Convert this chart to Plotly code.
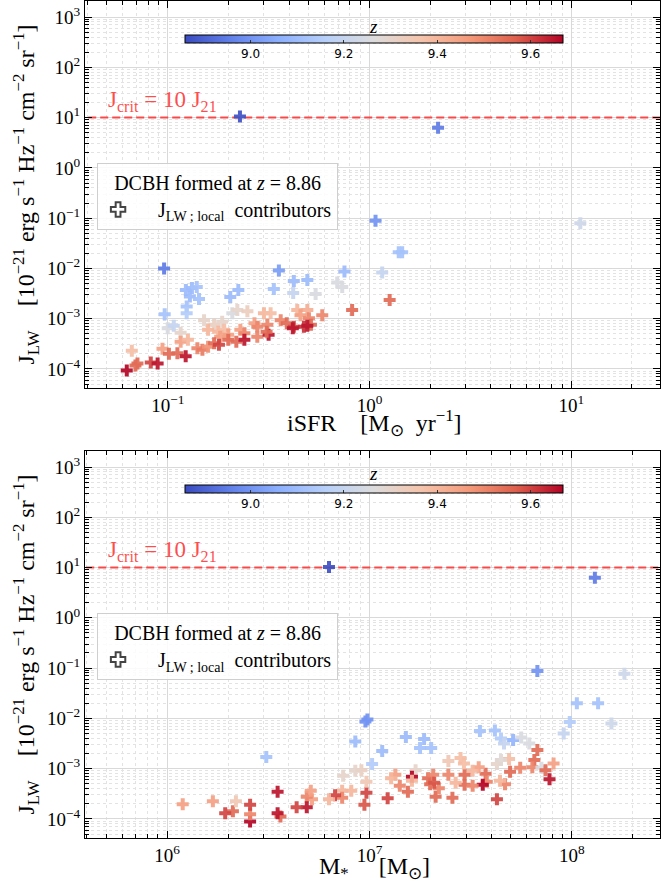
import numpy as np
import plotly.graph_objects as go

FONT = "Liberation Serif"

# ---------------- data ----------------
# Top panel: log10 iSFR [Msun/yr], log10 J_LW, redshift z
top_log_isfr = [-0.642, 0.34,
    0.03, 1.045, 0.162, 0.145, 0.063, 0.10, -0.086, -0.124, -0.135, -0.16, -0.267,
    -0.308, -0.375, -0.378, -0.449, -0.474, -0.65, -0.69,
    -1.018, -1.015, -0.91, -0.88, -0.856, -0.89, -0.845, -0.906, -0.906,
    -1.0, -0.97, -0.936, -0.82, -0.77, -0.73, -0.68, -0.655, -0.605, -0.523, -0.49,
    -0.358, -0.308, -0.342, -0.234, -0.30,
    -0.80, -0.75, -0.72, -0.74, -0.70, -0.64, -0.62, -0.57, -0.556, -0.506, -0.44,
    -0.41, -0.375, -0.325, -0.29,
    -1.178, -1.203, -1.15, -1.16, -1.084, -1.05, -1.026, -0.994, -0.952, -0.911,
    -0.936, -0.90, -0.853, -0.828, -0.80, -0.77, -0.746, -0.70, -0.66, -0.62,
    -0.556, -0.50, -0.51, -0.38, -0.308]
top_log_j = [1.02, 0.80,
    -1.05, -1.10, -1.68, -1.68, -2.08, -2.63, -2.83, -2.06, -2.37, -2.28, -2.51,
    -2.23, -2.25, -2.49, -2.04, -2.41, -2.43, -2.57,
    -2.0, -2.91, -2.43, -2.39, -2.37, -2.56, -2.61, -2.76, -2.89,
    -3.19, -3.14, -3.28, -3.03, -3.12, -3.06, -2.89, -2.83, -2.85, -2.89, -2.89,
    -2.83, -2.83, -2.93, -2.93, -2.99,
    -3.22, -3.26, -3.22, -3.36, -3.32, -3.22, -3.29, -3.09, -3.16, -3.12, -3.03,
    -3.09, -3.16, -3.16, -3.12,
    -3.64, -4.03, -3.89, -3.93, -3.87, -3.89, -3.60, -3.70, -3.69, -3.75,
    -3.46, -3.42, -3.59, -3.62, -3.56, -3.49, -3.52, -3.42, -3.46, -3.42,
    -3.36, -3.32, -3.26, -3.19, -3.14]
top_z = [8.87, 8.95,
    9.0, 9.22, 9.12, 9.12, 9.2, 9.55, 9.55, 9.1, 9.25, 9.25, 9.25,
    9.1, 9.1, 9.2, 9.02, 9.12, 9.1, 9.1,
    8.95, 9.12, 9.1, 9.1, 9.12, 9.1, 9.12, 9.12, 9.15,
    9.25, 9.2, 9.3, 9.3, 9.32, 9.3, 9.25, 9.3, 9.33, 9.4, 9.38,
    9.4, 9.42, 9.45, 9.5, 9.5,
    9.4, 9.4, 9.38, 9.45, 9.45, 9.45, 9.5, 9.45, 9.5, 9.5, 9.5,
    9.55, 9.6, 9.62, 9.55,
    9.38, 9.68, 9.55, 9.55, 9.6, 9.65, 9.45, 9.55, 9.55, 9.65,
    9.45, 9.4, 9.5, 9.52, 9.48, 9.55, 9.6, 9.55, 9.55, 9.65,
    9.5, 9.65, 9.55, 9.65, 9.65]

# Bottom panel: log10 M* [Msun], log10 J_LW, redshift z
bot_log_mstar = [6.80, 8.114,
    7.83, 8.26, 8.025, 8.13, 7.99, 8.196, 7.96, 6.99, 6.98, 6.93, 7.063, 7.013,
    7.18, 7.27, 7.25, 7.305, 7.546, 7.62, 7.65, 7.665, 7.71, 7.75, 7.79,
    7.83, 7.815, 7.805, 7.85, 7.87, 7.91, 7.89, 7.745, 7.695, 7.67, 7.645,
    7.69, 7.63, 7.65, 7.574, 7.58, 7.56, 7.63, 7.54, 7.51, 7.47, 7.47, 7.51,
    7.426, 7.45, 7.467, 7.39, 7.39, 7.41, 7.327, 7.343, 7.30, 7.29, 7.315, 7.32,
    7.228, 7.21, 7.21, 7.19, 7.15, 7.128, 7.107, 7.09, 6.985, 6.975, 6.96, 6.985,
    6.93, 6.87, 6.91, 6.865, 6.865, 6.83, 6.80, 6.716, 6.69, 6.71, 6.69, 6.64,
    6.56, 6.546, 6.546, 6.49, 6.41, 6.41, 6.41, 6.325, 6.287, 6.34, 6.226, 6.077]
bot_log_j = [1.01, 0.80,
    -1.06, -1.11, -1.70, -1.70, -2.07, -2.10, -2.30, -2.02, -2.06, -2.46, -2.65, -2.91,
    -2.37, -2.41, -2.59, -2.59, -2.25, -2.24, -2.40, -2.50, -2.43, -2.38, -2.50,
    -2.63, -2.83, -2.97, -2.98, -3.03, -2.90, -3.21, -2.98, -3.06, -3.31, -3.24,
    -2.81, -2.91, -2.83, -3.10, -3.26, -3.32, -3.61, -2.97, -3.04, -3.12, -3.32, -3.34,
    -3.28, -2.79, -2.90, -3.12, -2.85, -3.58, -3.56, -3.39, -3.31, -3.19, -3.12, -3.28,
    -3.03, -3.16, -3.24, -3.46, -3.34, -3.12, -3.19, -3.59, -3.48, -3.72, -3.03, -3.26,
    -3.04, -3.14, -3.44, -3.44, -3.58, -3.53, -3.61, -3.61, -3.56, -3.44, -3.77, -3.77,
    -3.95, -3.89, -3.46, -2.77, -4.05, -3.91, -3.72, -3.85, -3.89, -3.65, -3.65, -3.71]
bot_z = [8.87, 8.95,
    9.0, 9.22, 9.12, 9.12, 9.15, 9.22, 9.2, 9.0, 9.0, 9.1, 9.1, 9.15,
    9.1, 9.1, 9.12, 9.12, 9.12, 9.12, 9.15, 9.2, 9.08, 9.25, 9.25,
    9.55, 9.55, 9.5, 9.25, 9.55, 9.45, 9.65, 9.5, 9.55, 9.5, 9.4,
    9.38, 9.3, 9.28, 9.55, 9.5, 9.68, 9.6, 9.45, 9.4, 9.55, 9.55, 9.5,
    9.4, 9.38, 9.38, 9.5, 9.35, 9.55, 9.55, 9.5, 9.55, 9.55, 9.5, 9.58,
    9.3, 9.68, 9.4, 9.55, 9.5, 9.45, 9.4, 9.6, 9.6, 9.58, 9.32, 9.35,
    9.3, 9.3, 9.4, 9.4, 9.5, 9.6, 9.4, 9.45, 9.5, 9.45, 9.65, 9.6,
    9.55, 9.65, 9.65, 9.12, 9.7, 9.5, 9.6, 9.55, 9.6, 9.35, 9.45, 9.45]

J_CRIT = 10.0
Z_DCBH = 8.86
Z_RANGE = [8.86, 9.67]
cbar_ticks = [9.0, 9.2, 9.4, 9.6]
y_tick_exp = [-4, -3, -2, -1, 0, 1, 2, 3]
x_top_exp = [-1, 0, 1]
x_bot_exp = [6, 7, 8]

# ---------------- styling ----------------
coolwarm = [[0.0, "#3b4cc0"], [0.125, "#6282ea"], [0.25, "#8db0fe"], [0.375, "#b8d0f9"],
            [0.5, "#dddcdc"], [0.625, "#f5c4ac"], [0.75, "#f49a7b"], [0.875, "#de604d"],
            [1.0, "#b40426"]]
LINE_RED = "rgba(255,45,45,0.85)"
NB = "\u00a0"


def pow_label(e):
    return "10<sup>" + ("\u2212" if e < 0 else "") + str(abs(e)) + "</sup>"


def minor_vals(e0, e1):
    return [m * 10.0 ** e for e in range(e0, e1 + 1) for m in range(2, 10)]


def log_axis(exps, rng, minor_range):
    return dict(
        type="log", range=rng, showline=True, linecolor="black", linewidth=1,
        mirror="allticks", ticks="inside", ticklen=7, tickwidth=1, tickcolor="black",
        showgrid=True, gridcolor="#d9d9d9", gridwidth=1, zeroline=False,
        tickmode="array", tickvals=[10.0 ** e for e in exps],
        ticktext=[pow_label(e) for e in exps],
        tickfont=dict(family=FONT, size=19, color="black"),
        minor=dict(tickmode="array", tickvals=minor_vals(*minor_range), ticks="inside",
                   ticklen=4, tickwidth=1, tickcolor="black", showgrid=True,
                   gridcolor="#e3e3e3", griddash="dot", gridwidth=1),
    )


fig = go.Figure()

panels = [
    (top_log_isfr, top_log_j, top_z, "x", "y", "coloraxis", "legend"),
    (bot_log_mstar, bot_log_j, bot_z, "x2", "y2", "coloraxis2", "legend2"),
]
for lx, lj, zz, xa, ya, ca, lg in panels:
    # J_crit line
    fig.add_trace(go.Scatter(
        x=[1e-3, 1e10], y=[J_CRIT, J_CRIT], mode="lines", xaxis=xa, yaxis=ya,
        line=dict(color=LINE_RED, width=2, dash="8px,4px"), showlegend=False,
        hoverinfo="skip"))
    fig.add_trace(go.Scatter(
        x=np.power(10.0, lx), y=np.power(10.0, lj), mode="markers", xaxis=xa, yaxis=ya,
        marker=dict(symbol="cross", size=10, color=zz, coloraxis=ca, opacity=0.92,
                    line=dict(width=0)),
        showlegend=False))
    fig.add_trace(go.Scatter(
        x=[None], y=[None], mode="markers", xaxis=xa, yaxis=ya, legend=lg,
        marker=dict(symbol="cross-open", size=10, color="#444444",
                    line=dict(width=1, color="#444444")),
        name="\u2003J<sub>LW ; local</sub>  contributors", showlegend=True))

top_dom = [0.5376, 1.0]
bot_dom = [0.0, 0.4624]
yrange = [-4.38, 3.32]

XT_FONT = dict(family=FONT, size=24, color="black")
xa1 = log_axis(x_top_exp, [-1.41, 1.44], (-2, 1))
xa1.update(domain=[0, 1], anchor="y")
xa2 = log_axis(x_bot_exp, [5.594, 8.436], (5, 8))
xa2.update(domain=[0, 1], anchor="y2")
ytitle = ("J<sub>LW</sub>\u2003[10<sup>\u221221</sup> erg s<sup>\u22121</sup> "
          "Hz<sup>\u22121</sup> cm<sup>\u22122</sup> sr<sup>\u22121</sup>]")
YT_FONT = dict(family=FONT, size=24, color="black")
ya1 = log_axis(y_tick_exp, yrange, (-5, 3))
ya1.update(domain=top_dom, anchor="x", title=dict(text=ytitle, font=YT_FONT, standoff=5))
ya2 = log_axis(y_tick_exp, yrange, (-5, 3))
ya2.update(domain=bot_dom, anchor="x2", title=dict(text=ytitle, font=YT_FONT, standoff=5))


def cbar(ytop):
    return dict(
        orientation="h", x=0.503, xanchor="center", y=ytop, yanchor="top",
        len=0.657, lenmode="fraction", thickness=8, outlinecolor="black", outlinewidth=1,
        tickmode="array", tickvals=cbar_ticks, ticktext=[f"{v:.1f}" for v in cbar_ticks],
        ticks="inside", ticklen=3, tickcolor="#333333",
        tickfont=dict(family="DejaVu Sans", size=12, color="black"),
        ticklabelposition="outside bottom", xpad=0, ypad=0)


def legend_at(ytop):
    return dict(
        x=0.021, y=ytop, xanchor="left", yanchor="top",
        bgcolor="rgba(255,255,255,0.85)", bordercolor="#cfcfcf", borderwidth=1,
        font=dict(family=FONT, size=20, color="black"),
        title=dict(text="\u2002DCBH formed at <i>z</i> = " + f"{Z_DCBH:.2f}\u2002",
                   side="top center", font=dict(family=FONT, size=20, color="black")),
        itemsizing="constant", tracegroupgap=0)


annotations = []
for yref, xref, ycb in (("y", "x", 0.969), ("y2", "x2", 0.436)):
    annotations.append(dict(
        text="J<sub>crit</sub> = 10 J<sub>21</sub>", xref=xref + " domain", yref=yref,
        x=0.036, y=np.log10(J_CRIT), xanchor="left", yanchor="bottom", yshift=1,
        showarrow=False, font=dict(family=FONT, size=23, color=LINE_RED)))
    annotations.append(dict(
        text="<i>z</i>", xref="paper", yref="paper", x=0.501, y=ycb, xanchor="center",
        yanchor="middle", showarrow=False, font=dict(family=FONT, size=19, color="black")))

# x-axis titles
annotations.append(dict(
    text="iSFR" + NB * 4 + "[M<sub>\u2299</sub>" + NB * 2 + "yr<sup>\u22121</sup>]",
    xref="paper", yref="paper",
    x=0.504, y=0.4958, xanchor="center", yanchor="middle", showarrow=False, font=XT_FONT))
annotations.append(dict(
    text="M<sub>*</sub>" + NB * 5 + "[M<sub>\u2299</sub>]", xref="paper", yref="paper",
    x=0.504, y=-0.0358, xanchor="center", yanchor="middle", showarrow=False, font=XT_FONT))

fig.update_layout(
    width=663, height=886, margin=dict(l=85, r=3, t=1, b=48),
    paper_bgcolor="white", plot_bgcolor="white",
    font=dict(family=FONT, color="black"),
    xaxis=xa1, yaxis=ya1, xaxis2=xa2, yaxis2=ya2,
    coloraxis=dict(colorscale=coolwarm, cmin=Z_RANGE[0], cmax=Z_RANGE[1], colorbar=cbar(0.9594)),
    coloraxis2=dict(colorscale=coolwarm, cmin=Z_RANGE[0], cmax=Z_RANGE[1], colorbar=cbar(0.4217)),
    legend=legend_at(0.8065), legend2=legend_at(0.2688),
    annotations=annotations,
)

fig.write_html("out.html")
